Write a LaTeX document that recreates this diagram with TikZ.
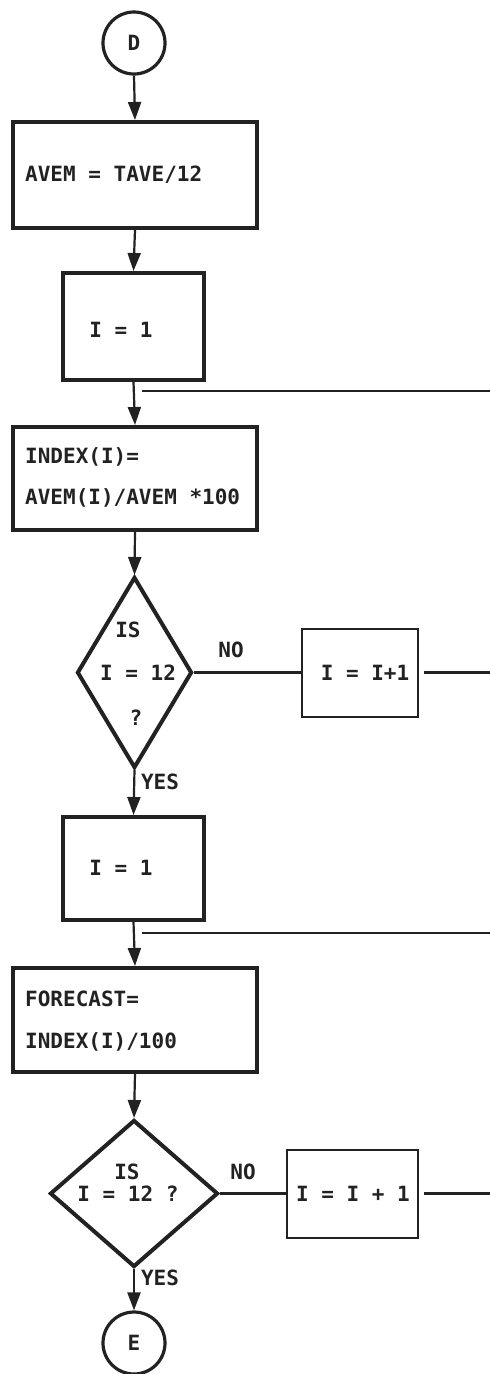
\documentclass[tikz,border=0pt]{standalone}
\usepackage{fontspec}
\setmonofont{DejaVu Sans Mono}
\usetikzlibrary{arrows.meta,shapes.geometric}
\definecolor{ink}{HTML}{222222}
\begin{document}
\begin{tikzpicture}[x=1pt,y=-1pt,
  every node/.style={font=\ttfamily\bfseries\fontsize{21}{41}\selectfont, text=ink},
  thickbox/.style={draw=ink, line width=4pt, rectangle, inner sep=0pt},
  thinbox/.style={draw=ink, line width=2pt, rectangle, inner sep=0pt},
  decision/.style={diamond, draw=ink, line width=4pt, inner sep=0pt},
  term/.style={circle, draw=ink, line width=3.2pt, minimum size=62pt, inner sep=0pt},
  txt/.style={inner sep=0pt},
  ltxt/.style={inner sep=0pt, anchor=west},
  flow/.style={draw=ink, line width=2.2pt, -{Triangle[width=13pt,length=18pt]}},
  link/.style={draw=ink, line width=2.2pt}
]
\useasboundingbox (0,0) rectangle (490,1374);

% terminals
\node[term] (D) at (134,43) {D};
\node[term] (E) at (134,1343) {E};

% first block
\node[thickbox, minimum width=244pt, minimum height=106pt] (b1) at (135,175) {};
\node[ltxt] (t1) at (25,175) {AVEM = TAVE/12};

\node[thickbox, minimum width=141pt, minimum height=107pt] (b2) at (133.5,326.5) {};
\node[txt] (t2) at (121,330) {I = 1};

\node[thickbox, minimum width=244pt, minimum height=103pt] (b3) at (135,478.5) {};
\node[ltxt] (t3a) at (25,457) {INDEX(I)=};
\node[ltxt] (t3b) at (25,498) {AVEM(I)/AVEM *100};

\node[decision, minimum width=115pt, minimum height=191pt] (d1) at (134.5,672.5) {};
\node[txt] (t4a) at (128,630) {IS};
\node[txt] (t4b) at (138,673) {I = 12};
\node[txt] (t4c) at (136,718) {?};
\node[txt] (no1) at (231,650) {NO};
\node[txt] (yes1) at (160,782) {YES};

\node[thinbox, minimum width=116pt, minimum height=88pt] (i1) at (360,672.5) {};
\node[txt] (ti1) at (365,672.5) {I = I+1};

% second block
\node[thickbox, minimum width=141pt, minimum height=103pt] (b5) at (133.5,868.5) {};
\node[txt] (t5) at (121,868) {I = 1};

\node[thickbox, minimum width=244pt, minimum height=104pt] (b6) at (135,1020) {};
\node[ltxt] (t6a) at (25,999) {FORECAST=};
\node[ltxt] (t6b) at (25,1042) {INDEX(I)/100};

\node[decision, minimum width=168pt, minimum height=147pt] (d2) at (134,1193.5) {};
\node[txt] (t7a) at (127,1172) {IS};
\node[txt] (t7b) at (128,1193.5) {I = 12 ?};
\node[txt] (no2) at (243,1172) {NO};
\node[txt] (yes2) at (160,1278) {YES};

\node[thinbox, minimum width=131pt, minimum height=88pt] (i2) at (352.5,1193.5) {};
\node[txt] (ti2) at (353,1193.5) {I = I + 1};

% free ends at the right edge
\coordinate (l1s) at (142,391);
\coordinate (l1e) at (490,391);
\coordinate (l2s) at (142,933);
\coordinate (l2e) at (490,933);
\coordinate (r1) at (490,672.5);
\coordinate (r2) at (490,1193.5);

% main flow
\draw[flow] (D.south) -- (b1.north);
\draw[flow] (b1.south) -- (b2.north);
\draw[flow] (b2.south) -- (b3.north);
\draw[flow] (b3.south) -- (d1.north);
\draw[flow] (d1.south) -- (b5.north);
\draw[flow] (b5.south) -- (b6.north);
\draw[flow] (b6.south) -- (d2.north);
\draw[flow] (d2.south) -- (E.north);

% loops
\draw[link] (d1.east) -- (i1.west);
\draw[link, shorten <=5pt] (i1.east) -- (r1);
\draw[link] (l1s) -- (l1e);
\draw[link] (d2.east) -- (i2.west);
\draw[link, shorten <=5pt] (i2.east) -- (r2);
\draw[link] (l2s) -- (l2e);
\end{tikzpicture}
\end{document}
